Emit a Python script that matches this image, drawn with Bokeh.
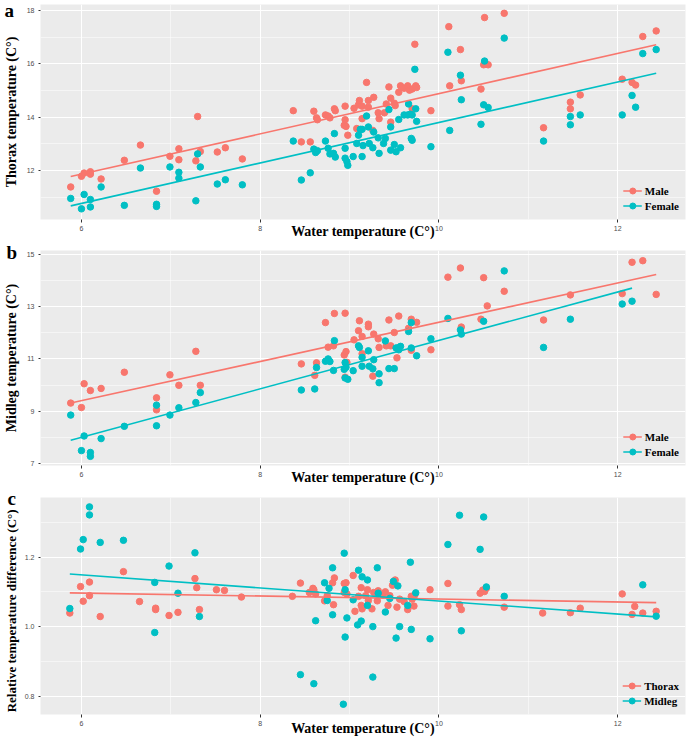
from bokeh.plotting import figure
from bokeh.layouts import column
from bokeh.models import FixedTicker, Legend, LegendItem, Range1d, PrintfTickFormatter
from bokeh.embed import file_html
from bokeh.resources import INLINE

# ---------------- data ----------------
x_ticks = [6, 8, 10, 12]
x_minor = [7, 9, 11]

# Panel a: thorax temperature
a_male_x = [5.88, 6.00, 6.03, 6.10, 6.10, 6.22, 6.48, 6.66, 6.84, 6.99, 7.09, 7.09, 7.28, 7.30, 7.33, 7.52, 7.61, 7.80,
            8.37, 8.46, 8.56, 8.60, 8.63, 8.64, 8.73, 8.76, 8.78, 8.83, 8.84, 8.95, 8.95, 8.94, 8.96, 8.98, 9.05, 9.08,
            9.10, 9.11, 9.14, 9.14, 9.19, 9.21, 9.21, 9.26, 9.27, 9.32, 9.33, 9.39, 9.41, 9.44, 9.46, 9.46, 9.50, 9.51,
            9.55, 9.57, 9.61, 9.65, 9.67, 9.70, 9.70, 9.73, 9.74, 9.75, 9.91, 10.11, 10.12, 10.24, 10.25, 10.47, 10.51,
            10.50, 10.55, 10.73, 11.17, 11.47, 11.47, 11.58, 12.05, 12.16, 12.20, 12.28, 12.43]
a_male_y = [11.38, 11.78, 11.90, 11.95, 11.86, 11.68, 12.38, 12.95, 11.22, 12.53, 12.81, 12.40, 12.36, 14.02, 12.71, 12.69, 12.85, 12.43,
            14.24, 13.07, 13.07, 14.22, 13.97, 13.90, 14.08, 14.04, 13.97, 14.31, 14.24, 14.41, 13.90, 13.69, 13.65, 13.32, 14.33, 13.57,
            14.46, 14.62, 14.41, 13.94, 15.30, 14.62, 14.37, 13.50, 14.74, 14.16, 13.94, 14.16, 14.49, 15.13, 13.81, 14.71, 14.52, 14.43,
            14.93, 15.17, 15.08, 15.17, 15.01, 15.05, 14.31, 16.73, 15.17, 15.11, 14.24, 17.39, 15.17, 16.53, 15.36, 15.05, 17.73,
            15.96, 15.96, 17.89, 13.60, 14.56, 14.31, 14.83, 15.42, 15.30, 15.20, 17.02, 17.23]
a_female_x = [5.88, 6.00, 6.03, 6.10, 6.10, 6.22, 6.48, 6.66, 6.84, 6.84, 6.99, 7.09, 7.09, 7.28, 7.30, 7.33, 7.52, 7.61, 7.80,
              8.37, 8.46, 8.56, 8.60, 8.62, 8.64, 8.73, 8.76, 8.78, 8.82, 8.83, 8.84, 8.95, 8.95, 8.97, 8.98, 9.04, 9.08,
              9.10, 9.12, 9.14, 9.14, 9.15, 9.19, 9.21, 9.22, 9.26, 9.27, 9.32, 9.33, 9.38, 9.40, 9.44, 9.46, 9.46, 9.50,
              9.52, 9.55, 9.57, 9.61, 9.65, 9.68, 9.70, 9.66, 9.69, 9.70, 9.73, 9.74, 9.75, 9.91, 10.10, 10.12, 10.24,
              10.25, 10.47, 10.51, 10.50, 10.55, 10.73, 11.17, 11.47, 11.47, 11.58, 12.05, 12.16, 12.20, 12.28, 12.43]
a_female_y = [10.95, 10.56, 11.10, 10.91, 10.63, 11.38, 10.69, 12.09, 10.73, 10.65, 12.13, 11.93, 11.71, 10.86, 12.62, 12.13, 11.49, 11.65, 11.46,
              13.10, 11.64, 11.91, 12.80, 12.67, 12.74, 13.10, 12.83, 12.62, 12.64, 13.38, 12.50, 12.83, 12.46, 12.33, 12.19, 12.52, 13.01,
              13.32, 13.54, 13.54, 12.52, 12.93, 14.04, 13.63, 13.01, 12.85, 13.44, 13.22, 12.64, 13.01, 13.20, 14.28, 12.76, 13.63, 12.97,
              12.70, 13.91, 12.85, 14.08, 14.08, 14.11, 14.08, 14.49, 13.20, 13.13, 15.79, 14.31, 13.84, 12.89, 16.43, 13.50, 15.57,
              14.65, 13.73, 16.10, 14.46, 14.36, 16.96, 13.10, 14.02, 13.71, 14.08, 14.08, 14.81, 14.37, 16.38, 16.53]
a_male_fit_x = [5.88, 12.43]
a_male_fit_y = [11.77, 16.71]
a_female_fit_x = [5.88, 12.43]
a_female_fit_y = [10.67, 15.64]
a_y_ticks = [12, 14, 16, 18]
a_y_minor = [11, 13, 15, 17]

# Panel b: midleg temperature
b_male_x = [5.88, 6.00, 6.03, 6.10, 6.22, 6.48, 6.84, 6.84, 6.99, 7.09, 7.28, 7.33, 8.46, 8.61, 8.63, 8.73, 8.76, 8.83,
            8.82, 8.95, 8.94, 8.96, 8.97, 8.95, 9.05, 9.10, 9.11, 9.14, 9.14, 9.21, 9.21, 9.26, 9.27, 9.32, 9.33, 9.41,
            9.44, 9.46, 9.50, 9.53, 9.55, 9.66, 9.69, 9.75, 9.69, 9.91, 10.10, 10.24, 10.25, 10.47, 10.50, 10.54, 10.73,
            11.17, 11.47, 12.05, 12.16, 12.28, 12.43]
b_male_y = [9.31, 9.14, 10.05, 9.79, 9.87, 10.49, 9.51, 9.05, 10.39, 9.99, 11.29, 9.99, 10.81, 10.37, 10.85, 12.39, 11.45, 12.74,
            11.50, 12.75, 11.15, 11.28, 10.87, 10.30, 11.73, 12.08, 12.46, 11.86, 11.20, 12.33, 12.23, 10.34, 11.95, 11.77, 11.44, 11.50,
            12.49, 11.50, 12.01, 11.04, 12.64, 12.17, 12.52, 12.40, 11.33, 11.35, 14.13, 14.48, 12.22, 12.52, 14.11, 13.03, 13.59,
            12.49, 13.45, 13.50, 14.70, 14.76, 13.47]
b_female_x = [5.88, 6.00, 6.03, 6.10, 6.10, 6.22, 6.48, 6.84, 6.84, 6.99, 7.09, 7.28, 7.33, 8.46, 8.61, 8.63, 8.73, 8.76,
              8.78, 8.83, 8.82, 8.95, 8.94, 8.96, 8.95, 8.98, 9.04, 9.10, 9.11, 9.14, 9.14, 9.21, 9.22, 9.26, 9.27, 9.33,
              9.33, 9.40, 9.44, 9.50, 9.52, 9.54, 9.57, 9.55, 9.66, 9.69, 9.69, 9.75, 9.91, 10.10, 10.24, 10.25, 10.50,
              10.73, 11.17, 11.47, 12.05, 12.16]
b_female_y = [8.85, 7.49, 8.05, 7.42, 7.27, 7.95, 8.42, 9.23, 8.44, 8.85, 9.13, 9.33, 9.71, 9.81, 9.85, 10.67, 10.91, 11.00,
              10.90, 11.70, 10.56, 10.86, 10.60, 10.68, 10.27, 10.22, 10.55, 11.50, 11.44, 11.06, 10.72, 11.31, 10.72, 10.62, 10.97, 10.09,
              10.43, 11.69, 10.63, 10.63, 11.42, 11.42, 11.48, 11.35, 12.05, 12.39, 11.42, 11.12, 11.77, 12.55, 12.11, 11.95, 12.44,
              14.37, 11.44, 12.52, 13.10, 13.21]
b_male_fit_x = [5.88, 12.43]
b_male_fit_y = [9.31, 14.23]
b_female_fit_x = [5.88, 12.16]
b_female_fit_y = [7.89, 13.71]
b_y_ticks = [7, 9, 11, 13, 15]
b_y_minor = [8, 10, 12, 14]

# Panel c: relative temperature difference
c_thorax_x = [5.87, 5.99, 6.02, 6.09, 6.09, 6.21, 6.47, 6.65, 6.83, 6.83, 6.98, 7.08, 7.27, 7.29, 7.32, 7.51, 7.60, 7.79,
              8.36, 8.45, 8.55, 8.59, 8.60, 8.62, 8.72, 8.75, 8.81, 8.83, 8.82, 8.94, 8.96, 8.94, 8.97, 9.04, 9.06, 9.10,
              9.13, 9.13, 9.14, 9.18, 9.20, 9.21, 9.25, 9.27, 9.31, 9.32, 9.37, 9.40, 9.43, 9.45, 9.48, 9.51, 9.53, 9.56,
              9.61, 9.65, 9.69, 9.70, 9.72, 9.73, 9.90, 10.10, 10.10, 10.23, 10.25, 10.46, 10.49, 10.51, 10.53, 10.73,
              11.16, 11.47, 11.58, 12.05, 12.16, 12.19, 12.28, 12.43]
c_thorax_y = [1.039, 1.115, 1.073, 1.128, 1.089, 1.029, 1.158, 1.072, 1.053, 1.049, 1.032, 1.041, 1.138, 1.112, 1.049, 1.106, 1.104, 1.085,
              1.087, 1.125, 1.098, 1.110, 1.106, 1.094, 1.074, 1.089, 1.126, 1.140, 1.063, 1.124, 1.126, 1.098, 1.094, 1.147, 1.044, 1.087,
              1.112, 1.061, 1.051, 1.089, 1.106, 1.075, 1.051, 1.098, 1.074, 1.103, 1.091, 1.100, 1.061, 1.089, 1.119, 1.134, 1.056, 1.079,
              1.072, 1.049, 1.087, 1.079, 1.059, 1.091, 1.106, 1.124, 1.059, 1.063, 1.049, 1.096, 1.105, 1.101, 1.110, 1.056,
              1.039, 1.040, 1.053, 1.094, 1.035, 1.058, 1.039, 1.044]
c_midleg_x = [5.87, 5.99, 6.02, 6.09, 6.09, 6.21, 6.47, 6.82, 6.82, 6.98, 7.08, 7.27, 7.32, 8.45, 8.60, 8.62, 8.72, 8.75,
              8.77, 8.81, 8.81, 8.94, 8.95, 8.95, 8.97, 8.93, 9.04, 9.09, 9.13, 9.10, 9.14, 9.20, 9.20, 9.26, 9.26, 9.31,
              9.32, 9.40, 9.45, 9.49, 9.54, 9.56, 9.52, 9.65, 9.68, 9.69, 9.74, 9.90, 10.10, 10.23, 10.25, 10.46, 10.50,
              10.53, 10.73, 12.28, 12.43]
c_midleg_y = [1.052, 1.223, 1.250, 1.344, 1.321, 1.242, 1.248, 1.127, 0.983, 1.174, 1.096, 1.212, 1.029, 0.862, 0.836, 1.017, 1.126, 1.075,
              1.110, 1.169, 1.034, 1.211, 1.106, 0.970, 1.025, 0.777, 1.077, 1.005, 1.016, 1.162, 1.143, 1.134, 1.061, 1.000, 0.855, 1.169,
              1.096, 1.042, 1.081, 1.130, 1.117, 1.000, 0.967, 1.061, 1.185, 0.992, 1.097, 0.965, 1.236, 1.320, 0.988, 1.222, 1.315,
              1.114, 1.087, 1.120, 1.030]
c_thorax_fit_x = [5.87, 12.43]
c_thorax_fit_y = [1.097, 1.069]
c_midleg_fit_x = [5.87, 12.43]
c_midleg_fit_y = [1.151, 1.028]
c_y_ticks = [0.8, 1.0, 1.2]
c_y_minor = [0.9, 1.1, 1.3]

# ---------------- style ----------------
RED = "#F8766D"
CYAN = "#00BFC4"
SERIF = "Liberation Serif"
SANS = "Liberation Sans"
W = 696
X_RANGE = (5.542, 12.758)


def make_panel(letter, ylabel, yrange, yticks, yminor, series, fits, labels,
               height, top, bottom, xstand, ystand, ysize, letter_standoff, letter_offset, yfmt=None):
    p = figure(width=W, height=height, x_range=Range1d(*X_RANGE), y_range=Range1d(*yrange),
               output_backend="svg", toolbar_location=None,
               min_border_left=33, min_border_right=11, min_border_top=top, min_border_bottom=bottom)
    p.background_fill_color = "#EBEBEB"
    p.border_fill_color = "white"
    p.outline_line_color = None

    # panel letter drawn as the (unclipped) title
    p.title.text = letter
    p.title.text_font = SERIF
    p.title.text_font_style = "bold"
    p.title.text_font_size = "19px"
    p.title.text_color = "black"
    p.title.align = "left"
    p.title.standoff = letter_standoff
    p.title.offset = letter_offset

    p.xaxis.ticker = FixedTicker(ticks=x_ticks, minor_ticks=x_minor)
    p.yaxis.ticker = FixedTicker(ticks=yticks, minor_ticks=yminor)
    if yfmt is not None:
        p.yaxis.formatter = PrintfTickFormatter(format=yfmt)
    for g in (p.xgrid, p.ygrid):
        g.grid_line_color = "white"
        g.grid_line_width = 1
        g.minor_grid_line_color = "white"
        g.minor_grid_line_width = 0.5
    for ax in (p.xaxis, p.yaxis):
        ax.axis_line_color = None
        ax.major_tick_line_color = "#333333"
        ax.major_tick_out = 3
        ax.major_tick_in = 0
        ax.minor_tick_line_color = None
        ax.major_label_text_font = SANS
        ax.major_label_text_font_size = "7px"
        ax.major_label_text_color = "#4D4D4D"
        ax.major_label_standoff = 2
        ax.axis_label_text_font = SERIF
        ax.axis_label_text_font_style = "bold"
        ax.axis_label_text_font_size = "14px"
        ax.axis_label_text_color = "black"
    p.yaxis.major_tick_out = 2
    p.yaxis.axis_label_text_font_size = ysize
    p.xaxis.axis_label = "Water temperature (C°)"
    p.xaxis.axis_label_standoff = xstand
    p.yaxis.axis_label = ylabel
    p.yaxis.axis_label_standoff = ystand

    pts = []
    for (sx, sy), col in zip(series, (RED, CYAN)):
        pts.append(p.scatter(sx, sy, size=6.5, color=col, line_color=col))
    lines = []
    for (fx, fy), col in zip(fits, (RED, CYAN)):
        lines.append(p.line(fx, fy, line_color=col, line_width=1.6))

    legend = Legend(items=[LegendItem(label=lab, renderers=[ln, rp]) for lab, rp, ln in zip(labels, pts, lines)],
                    location="bottom_right")
    legend.label_text_font = SERIF
    legend.label_text_font_style = "bold"
    legend.label_text_font_size = "11px"
    legend.label_text_color = "black"
    legend.background_fill_alpha = 0
    legend.border_line_color = None
    legend.glyph_width = 19
    legend.glyph_height = 15
    legend.label_height = 15
    legend.spacing = 0
    legend.padding = 2
    legend.margin = 6
    legend.label_standoff = 3
    p.add_layout(legend)
    return p


pa = make_panel("a", "Thorax temperature (C°)", (10.16, 18.22), a_y_ticks, a_y_minor,
                [(a_male_x, a_male_y), (a_female_x, a_female_y)],
                [(a_male_fit_x, a_male_fit_y), (a_female_fit_x, a_female_fit_y)],
                ["Male", "Female"], 241, 4, 19, -10, 5, "14px", -32, -36)
pb = make_panel("b", "Midleg temperature (C°)", (6.92, 15.15), b_y_ticks, b_y_minor,
                [(b_male_x, b_male_y), (b_female_x, b_female_y)],
                [(b_male_fit_x, b_male_fit_y), (b_female_fit_x, b_female_fit_y)],
                ["Male", "Female"], 246, 9, 20, -10, 5, "14px", -25, -34)
pc = make_panel("c", "Relative temperature difference  (C°)\u00a0\u00a0", (0.7475, 1.371), c_y_ticks, c_y_minor,
                [(c_thorax_x, c_thorax_y), (c_midleg_x, c_midleg_y)],
                [(c_thorax_fit_x, c_thorax_fit_y), (c_midleg_fit_x, c_midleg_fit_y)],
                ["Thorax", "Midleg"], 251, 10, 21, -8, 3, "13px", -23, -33, yfmt="%.1f")

layout = column(pa, pb, pc, spacing=0)
open("out.html", "w").write(file_html(layout, INLINE))
